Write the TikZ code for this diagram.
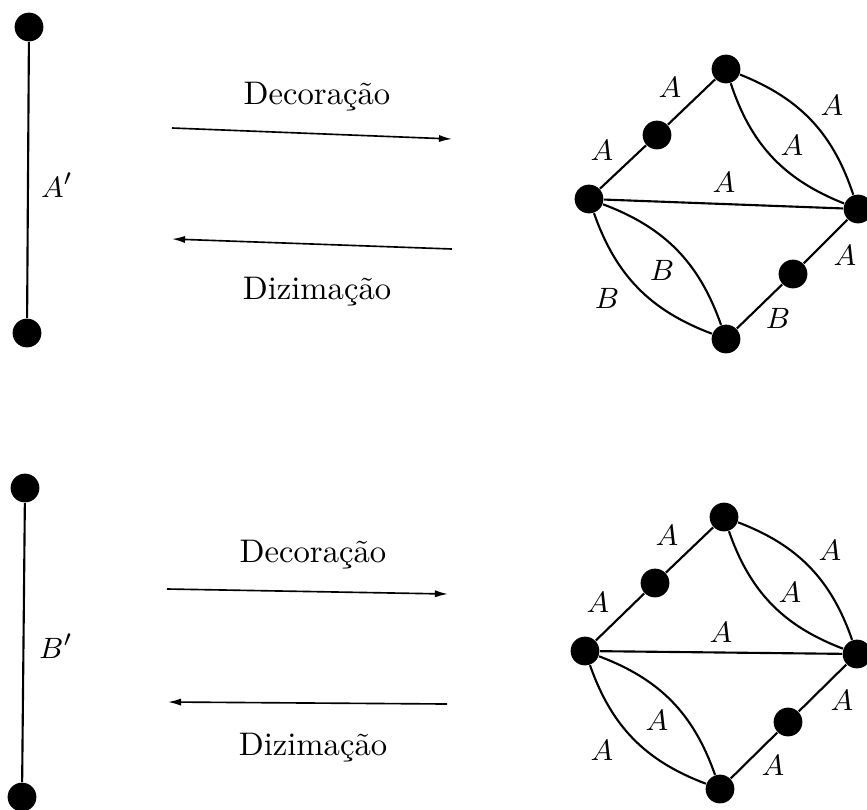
\documentclass[tikz,border=0pt]{standalone}
\usetikzlibrary{arrows.meta}
\begin{document}
\begin{tikzpicture}[x=0.306pt,y=-0.306pt,
  dot/.style={circle,fill=black,inner sep=0pt,minimum size=8.8pt},
  edge/.style={line width=0.65pt},
  arr/.style={line width=0.5pt,-{Latex[length=4pt,width=2.2pt]}},
  lab/.style={inner sep=0pt,font=\fontsize{9.5}{11}\selectfont},
  txt/.style={inner sep=0pt,font=\fontsize{10}{12}\selectfont}]
\useasboundingbox (0,0) rectangle (867,809);

% ---------- top row ----------
\node[dot] (a1) at (29,27) {};
\node[dot] (a2) at (27,333) {};
\draw[edge] (a1) -- (a2);
\node[lab] (ap) at (57,185) {$A'$};

\coordinate (d1s) at (172,128);
\coordinate (d1e) at (452,139);
\draw[arr] (d1s) -- (d1e);
\node[txt] (dec1) at (317,97) {Decoração};
\coordinate (z1s) at (452,249);
\coordinate (z1e) at (172,239);
\draw[arr] (z1s) -- (z1e);
\node[txt] (diz1) at (317,292) {Dizimação};

\node[dot] (T1) at (726,69) {};
\node[dot] (M1) at (657,135) {};
\node[dot] (L1) at (589,199) {};
\node[dot] (R1) at (858,209) {};
\node[dot] (N1) at (793,274) {};
\node[dot] (B1) at (726,339) {};
\draw[edge] (L1) -- (M1) -- (T1);
\draw[edge] (T1) to[bend left=25] (R1);
\draw[edge] (T1) to[bend right=25] (R1);
\draw[edge] (L1) -- (R1);
\draw[edge] (R1) -- (N1) -- (B1);
\draw[edge] (L1) to[bend right=25] (B1);
\draw[edge] (L1) to[bend left=25] (B1);
\node[lab] (t1a) at (670,87) {$A$};
\node[lab] (t1b) at (602,150) {$A$};
\node[lab] (t1c) at (832,105) {$A$};
\node[lab] (t1d) at (792,145) {$A$};
\node[lab] (t1e) at (724,182) {$A$};
\node[lab] (t1f) at (845,255) {$A$};
\node[lab] (t1g) at (778,318) {$B$};
\node[lab] (t1h) at (662,270) {$B$};
\node[lab] (t1i) at (607,298) {$B$};

% ---------- bottom row ----------
\node[dot] (b1) at (25,488) {};
\node[dot] (b2) at (22,797) {};
\draw[edge] (b1) -- (b2);
\node[lab] (bp) at (56,646) {$B'$};

\coordinate (d2s) at (167,589);
\coordinate (d2e) at (448,594);
\draw[arr] (d2s) -- (d2e);
\node[txt] (dec2) at (313,555) {Decoração};
\coordinate (z2s) at (447,704);
\coordinate (z2e) at (168,702);
\draw[arr] (z2s) -- (z2e);
\node[txt] (diz2) at (313,748) {Dizimação};

\node[dot] (T2) at (724,517) {};
\node[dot] (M2) at (655,583) {};
\node[dot] (L2) at (585,651) {};
\node[dot] (R2) at (857,654) {};
\node[dot] (N2) at (788,722) {};
\node[dot] (B2) at (720,789) {};
\draw[edge] (L2) -- (M2) -- (T2);
\draw[edge] (T2) to[bend left=25] (R2);
\draw[edge] (T2) to[bend right=25] (R2);
\draw[edge] (L2) -- (R2);
\draw[edge] (R2) -- (N2) -- (B2);
\draw[edge] (L2) to[bend right=25] (B2);
\draw[edge] (L2) to[bend left=25] (B2);
\node[lab] (t2a) at (667,535) {$A$};
\node[lab] (t2b) at (598,602) {$A$};
\node[lab] (t2c) at (830,550) {$A$};
\node[lab] (t2d) at (790,592) {$A$};
\node[lab] (t2e) at (721,632) {$A$};
\node[lab] (t2f) at (842,700) {$A$};
\node[lab] (t2g) at (773,765) {$A$};
\node[lab] (t2h) at (657,720) {$A$};
\node[lab] (t2i) at (602,750) {$A$};
\end{tikzpicture}
\end{document}
